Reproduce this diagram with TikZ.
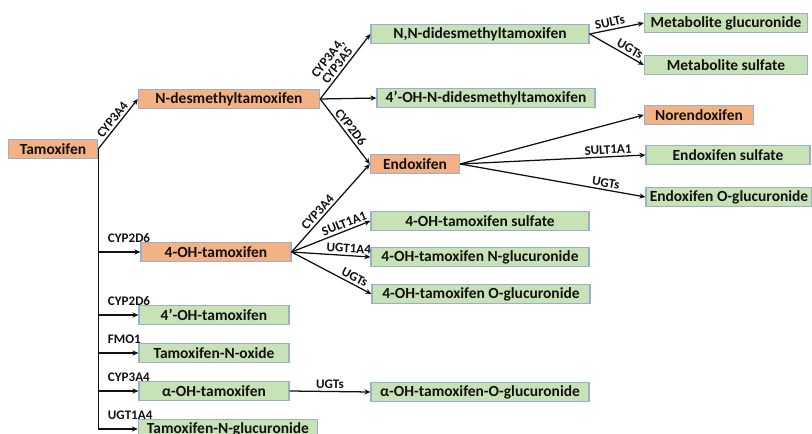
\documentclass[tikz,border=0pt]{standalone}
\usepackage{fontspec}
\setmainfont{Carlito}
\usetikzlibrary{arrows.meta,positioning}
\definecolor{ParentOrange}{HTML}{F4B183}
\definecolor{ProductGreen}{HTML}{C8E2B8}
\definecolor{BoxEdge}{HTML}{9BAFC8}
\definecolor{Ink}{HTML}{111111}

\begin{document}
\begin{tikzpicture}[
    x=0.025cm, y=-0.025cm,
    font=\bfseries,
    flow/.style={-{Stealth[length=1.5mm,width=1.3mm]}, line width=0.9pt, draw=Ink},
    parent/.style={
        draw=BoxEdge,
        fill=ParentOrange,
        line width=0.8pt,
        minimum height=0.46cm,
        inner sep=1pt,
        font=\bfseries\fontsize{11}{12}\selectfont,
        text=Ink
    },
    product/.style={parent, fill=ProductGreen},
    enzyme/.style={font=\bfseries\fontsize{9.3}{10}\selectfont, text=Ink, inner sep=1.5pt}
]
\useasboundingbox (0,0) rectangle (812,434);

% Parent compound and primary metabolites
\node[parent, minimum width=2.23cm] (tam) at (53,149) {Tamoxifen};
\node[parent, minimum width=4.53cm] (ndes) at (229,99) {N-desmethyltamoxifen};
\node[parent, minimum width=3.75cm] (hydroxy) at (216,252) {4-OH-tamoxifen};
\node[parent, minimum width=2.23cm] (endox) at (415,164) {Endoxifen};
\node[parent, minimum width=2.73cm] (norendox) at (699,115) {Norendoxifen};

% N-desmethyltamoxifen branch
\node[product, minimum width=5.45cm] (nndes) at (480,34) {N,N-didesmethyltamoxifen};
\node[product, minimum width=5.45cm] (ohnd) at (486,98) {4’-OH-N-didesmethyltamoxifen};
\node[product, minimum width=4.08cm] (metgluc) at (726,23) {Metabolite glucuronide};
\node[product, minimum width=4.08cm] (metsulf) at (726,65) {Metabolite sulfate};

% Endoxifen conjugates
\node[product, minimum width=4.1cm] (endsulf) at (728,155) {Endoxifen sulfate};
\node[product, minimum width=4.15cm] (endgluc) at (729,197) {Endoxifen O-glucuronide};

% 4-OH-tamoxifen conjugates
\node[product, minimum width=5.45cm] (ohsulf) at (480,221) {4-OH-tamoxifen sulfate};
\node[product, minimum width=5.45cm] (ohngluc) at (480,257) {4-OH-tamoxifen N-glucuronide};
\node[product, minimum width=5.45cm] (hydrogluc) at (481,294) {4-OH-tamoxifen O-glucuronide};

% Minor routes off the trunk
\node[product, minimum width=3.75cm] (fourprime) at (214,315) {4’-OH-tamoxifen};
\node[product, minimum width=3.75cm] (noxide) at (214,353) {Tamoxifen-N-oxide};
\node[product, minimum width=3.75cm] (alpha) at (214,391) {α-OH-tamoxifen};
\node[product, minimum width=5.45cm] (alphagluc) at (480,392) {α-OH-tamoxifen-O-glucuronide};
\node[product, minimum width=4.48cm] (ngluc) at (228,429) {Tamoxifen-N-glucuronide};

% Demethylation and hydroxylation
\draw[flow] (tam.east) -- node[enzyme, sloped, above] {CYP3A4} (ndes.west);
\draw[flow] (ndes.east) -- node[enzyme, sloped, above, pos=0.45, align=center]
    {CYP3A4,\\[-1.5pt]CYP3A5} (nndes.west);
\draw[flow] (ndes.east) -- (ohnd.west);
\draw[flow] (ndes.east) -- node[enzyme, sloped, above] {CYP2D6} (endox.west);
\draw[flow] (hydroxy.east) -- node[enzyme, sloped, above, pos=0.4] {CYP3A4} (endox.west);

% Conjugation
\draw[flow] (nndes.east) -- node[enzyme, sloped, above, pos=0.4] {SULTs} (metgluc.west);
\draw[flow] (nndes.east) -- node[enzyme, sloped, above, pos=0.68] {UGTs} (metsulf.west);
\draw[flow] (endox.east) -- (norendox.west);
\draw[flow] (endox.east) -- node[enzyme, sloped, above, pos=0.8] {SULT1A1} (endsulf.west);
\draw[flow] (endox.east) -- node[enzyme, sloped, above, pos=0.78] {UGTs} (endgluc.west);
\draw[flow] (hydroxy.east) -- node[enzyme, sloped, above, pos=0.7] {SULT1A1} (ohsulf.west);
\draw[flow] (hydroxy.east) -- node[enzyme, sloped, above, pos=0.72] {UGT1A4} (ohngluc.west);
\draw[flow] (hydroxy.east) -- node[enzyme, sloped, above, pos=0.75] {UGTs} (hydrogluc.west);
\draw[flow] (alpha.east) -- node[enzyme, above] {UGTs} (alphagluc.west);

% Trunk down the left side
\draw[flow] (tam.east) |- node[enzyme, pos=0.5, anchor=south west, xshift=5pt, yshift=5pt] {CYP2D6} (hydroxy.west);
\draw[flow] (tam.east) |- node[enzyme, pos=0.5, anchor=south west, xshift=5pt, yshift=5pt] {CYP2D6} (fourprime.west);
\draw[flow] (tam.east) |- node[enzyme, pos=0.5, anchor=south west, xshift=5pt, yshift=5pt] {FMO1} (noxide.west);
\draw[flow] (tam.east) |- node[enzyme, pos=0.5, anchor=south west, xshift=5pt, yshift=5pt] {CYP3A4} (alpha.west);
\draw[flow] (tam.east) |- node[enzyme, pos=0.5, anchor=south west, xshift=5pt, yshift=5pt] {UGT1A4} (ngluc.west);

\end{tikzpicture}
\end{document}
